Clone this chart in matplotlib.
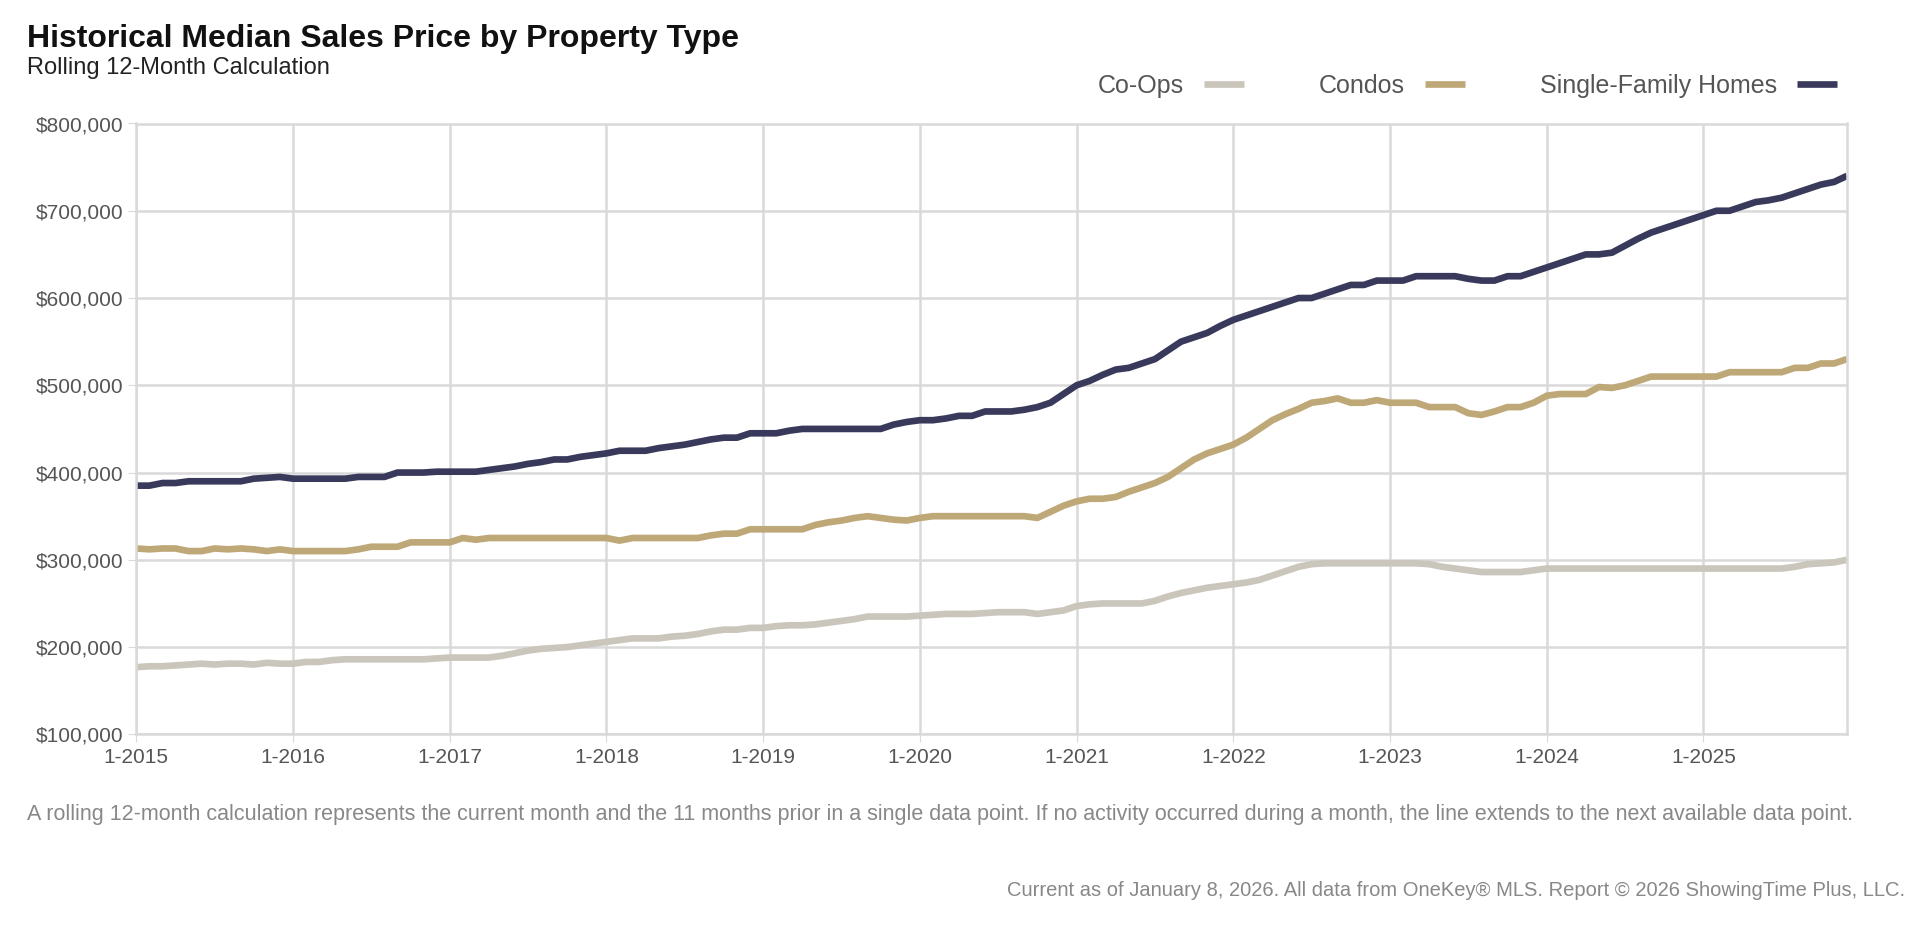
import matplotlib
matplotlib.use("Agg")
import matplotlib.pyplot as plt
import numpy as np

plt.rcParams['font.family'] = ['Liberation Sans', 'DejaVu Sans']

years = list(range(2015, 2026))
tick_labels = [f"1-{y}" for y in years]

single_family = [
    385, 385, 388, 388, 390, 390, 390, 390, 390, 393, 394, 395,
    393, 393, 393, 393, 393, 395, 395, 395, 400, 400, 400, 401,
    401, 401, 401, 403, 405, 407, 410, 412, 415, 415, 418, 420,
    422, 425, 425, 425, 428, 430, 432, 435, 438, 440, 440, 445,
    445, 445, 448, 450, 450, 450, 450, 450, 450, 450, 455, 458,
    460, 460, 462, 465, 465, 470, 470, 470, 472, 475, 480, 490,
    500, 505, 512, 518, 520, 525, 530, 540, 550, 555, 560, 568,
    575, 580, 585, 590, 595, 600, 600, 605, 610, 615, 615, 620,
    620, 620, 625, 625, 625, 625, 622, 620, 620, 625, 625, 630,
    635, 640, 645, 650, 650, 652, 660, 668, 675, 680, 685, 690,
    695, 700, 700, 705, 710, 712, 715, 720, 725, 730, 733, 740,
]
condos = [
    313, 312, 313, 313, 310, 310, 313, 312, 313, 312, 310, 312,
    310, 310, 310, 310, 310, 312, 315, 315, 315, 320, 320, 320,
    320, 325, 323, 325, 325, 325, 325, 325, 325, 325, 325, 325,
    325, 322, 325, 325, 325, 325, 325, 325, 328, 330, 330, 335,
    335, 335, 335, 335, 340, 343, 345, 348, 350, 348, 346, 345,
    348, 350, 350, 350, 350, 350, 350, 350, 350, 348, 355, 362,
    367, 370, 370, 372, 378, 383, 388, 395, 405, 415, 422, 427,
    432, 440, 450, 460, 467, 473, 480, 482, 485, 480, 480, 483,
    480, 480, 480, 475, 475, 475, 468, 466, 470, 475, 475, 480,
    488, 490, 490, 490, 498, 497, 500, 505, 510, 510, 510, 510,
    510, 510, 515, 515, 515, 515, 515, 520, 520, 525, 525, 530,
]
co_ops = [
    177, 178, 178, 179, 180, 181, 180, 181, 181, 180, 182, 181,
    181, 183, 183, 185, 186, 186, 186, 186, 186, 186, 186, 187,
    188, 188, 188, 188, 190, 193, 196, 198, 199, 200, 202, 204,
    206, 208, 210, 210, 210, 212, 213, 215, 218, 220, 220, 222,
    222, 224, 225, 225, 226, 228, 230, 232, 235, 235, 235, 235,
    236, 237, 238, 238, 238, 239, 240, 240, 240, 238, 240, 242,
    247, 249, 250, 250, 250, 250, 253, 258, 262, 265, 268, 270,
    272, 274, 277, 282, 287, 292, 295, 296, 296, 296, 296, 296,
    296, 296, 296, 295, 292, 290, 288, 286, 286, 286, 286, 288,
    290, 290, 290, 290, 290, 290, 290, 290, 290, 290, 290, 290,
    290, 290, 290, 290, 290, 290, 290, 292, 295, 296, 297, 300,
]

months = np.arange(len(single_family))

fig = plt.figure(figsize=(19.2, 9.5), dpi=100)
ax = fig.add_axes([0.071, 0.227, 0.891, 0.643])

lw = 4.8
ax.plot(months, np.array(co_ops) * 1000, color="#cbc6bc", lw=lw, label="Co-Ops", solid_capstyle="butt")
ax.plot(months, np.array(condos) * 1000, color="#bfa878", lw=lw, label="Condos", solid_capstyle="butt")
ax.plot(months, np.array(single_family) * 1000, color="#393a5b", lw=lw, label="Single-Family Homes", solid_capstyle="butt")

ax.set_xlim(0, len(months) - 1)
ax.set_ylim(100000, 800000)
ax.set_xticks(np.arange(0, len(months), 12))
ax.set_xticklabels(tick_labels)
yt = np.arange(100000, 800001, 100000)
ax.set_yticks(yt)
ax.set_yticklabels([f"${v:,.0f}" for v in yt])
ax.grid(True, color="#d9d9d9", lw=1.8)
ax.set_axisbelow(True)
for s in ax.spines.values():
    s.set_color("#d9d9d9")
    s.set_linewidth(1.8)
ax.tick_params(length=6, color="#d9d9d9", labelsize=15, labelcolor="#555555")

leg = ax.legend(loc="lower right", bbox_to_anchor=(1.0, 1.025), ncol=3, frameon=False,
                markerfirst=False, fontsize=18, handlelength=1.6, columnspacing=3.0,
                handletextpad=0.8, borderaxespad=0)
for t in leg.get_texts():
    t.set_color("#555555")

fig.text(0.014, 0.95, "Historical Median Sales Price by Property Type", fontsize=23,
         fontweight="bold", color="#111111")
fig.text(0.014, 0.922, "Rolling 12-Month Calculation", fontsize=17, color="#222222")
fig.text(0.014, 0.137, "A rolling 12-month calculation represents the current month and the 11 months prior "
         "in a single data point. If no activity occurred during a month, the line extends to the next "
         "available data point.", fontsize=15.5, color="#888888")
fig.text(0.992, 0.057, "Current as of January 8, 2026. All data from OneKey® MLS. Report © 2026 ShowingTime Plus, LLC.",
         fontsize=14.5, color="#888888", ha="right")

fig.savefig("out.png", dpi=100)
